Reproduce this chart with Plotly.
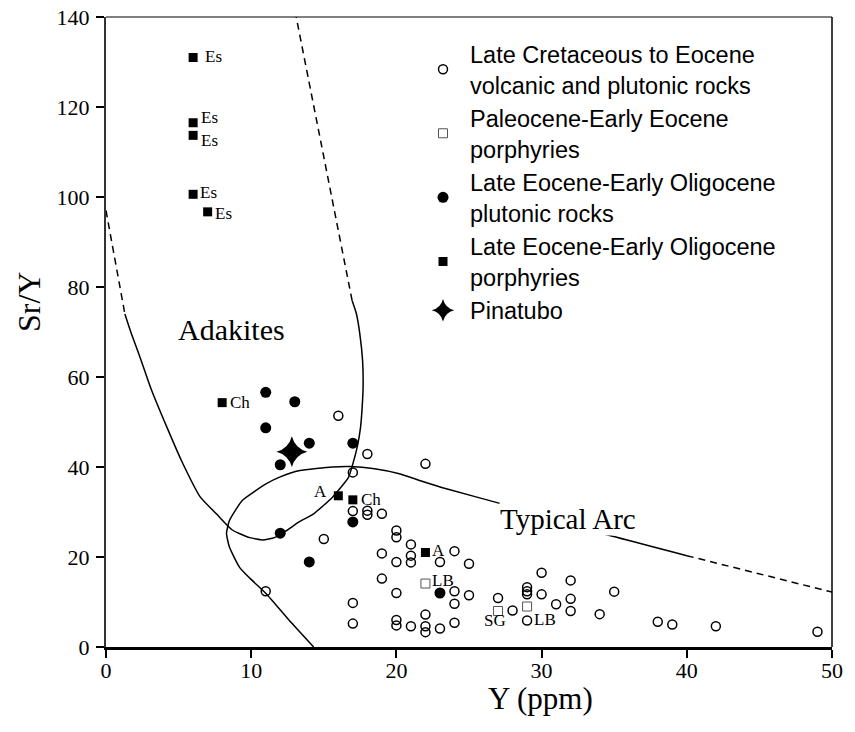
import plotly.graph_objects as go

# ---------------- data ----------------
# Late Cretaceous to Eocene volcanic and plutonic rocks (open circles)
lce_y = [16, 18, 17, 22, 17, 18, 18, 19, 15, 11, 17, 17, 20, 20, 21, 21, 21, 19, 20, 24,
         23, 25, 19, 20, 24, 25, 24, 20, 20, 21, 22, 22, 22, 23, 24, 27, 28, 29, 29, 29,
         30, 30, 31, 32, 32, 32, 35, 34, 38, 39, 42, 49, 29]
lce_sry = [51.4, 42.9, 38.8, 40.7, 30.2, 30.3, 29.4, 29.6, 24.0, 12.4, 9.8, 5.2, 25.9, 24.4,
           22.8, 20.3, 18.8, 20.8, 18.9, 21.3, 18.9, 18.5, 15.2, 12.0, 12.4, 11.5, 9.6, 6.0,
           4.8, 4.6, 7.2, 4.6, 3.3, 4.1, 5.4, 10.9, 8.1, 13.3, 12.4, 11.7, 16.5, 11.7, 9.5,
           14.8, 10.7, 8.0, 12.3, 7.3, 5.6, 5.0, 4.6, 3.4, 5.9]

# Paleocene-Early Eocene porphyries (open squares)
pee_y = [22, 27, 29]
pee_sry = [14.1, 8.0, 9.0]

# Late Eocene-Early Oligocene plutonic rocks (filled circles)
leo_plut_y = [11, 13, 11, 14, 17, 12, 12, 17, 14, 23]
leo_plut_sry = [56.6, 54.5, 48.7, 45.3, 45.3, 40.5, 25.3, 27.8, 18.9, 12.0]

# Late Eocene-Early Oligocene porphyries (filled squares)
leo_por_y = [6, 6, 6, 6, 7, 8, 16, 17, 22]
leo_por_sry = [131, 116.5, 113.7, 100.6, 96.7, 54.3, 33.6, 32.7, 21.0]

# Pinatubo
pin_y = [12.8]
pin_sry = [43.4]

# field boundaries
adak_dash1_x = [0, 1.3]
adak_dash1_y = [97, 74]
adak_solid_x = [1.3, 1.75, 2.3, 3.1, 4.2, 5.2, 6.5, 7.6, 8.7, 9.9, 10.8, 11.6, 12.4, 13.3,
                14.3, 15.6, 16.7, 17.0, 17.3, 17.53, 17.67, 17.71, 17.67, 17.48, 17.25, 16.95]
adak_solid_y = [74, 69.6, 64.8, 57.4, 48.8, 41.4, 33.3, 29.6, 26.0, 24.3, 23.8, 24.3, 25.8, 27.8,
                29.6, 33.3, 37.7, 40.7, 44.4, 48.8, 54.8, 58.5, 63.7, 69.6, 74, 77]
adak_dash2_x = [16.95, 13.1]
adak_dash2_y = [77, 140]

arc_solid_x = [14.3, 12.6, 11.05, 9.9, 9.2, 8.5, 8.3, 8.5, 9.4, 11.05, 12.0, 13.35, 15.6, 16.8,
               18.5, 20.2, 21.6, 23.5, 27.25, 33.3, 40.0]
arc_solid_y = [0, 6.0, 11.8, 15.3, 17.7, 22.2, 25.2, 28.1, 32.6, 36.3, 37.8, 39.2, 40.0, 40.1,
               39.6, 38.5, 37.0, 35.1, 31.8, 26.0, 20.3]
arc_dash_x = [40.0, 50.0]
arc_dash_y = [20.3, 12.2]

x_ticks = [0, 10, 20, 30, 40, 50]
y_ticks = [0, 20, 40, 60, 80, 100, 120, 140]

# point labels: text, Y, Sr/Y, xanchor, xshift, yshift
pt_labels = [
    ("Es", 6, 131, "left", 10, 1),
    ("Es", 6, 116.5, "left", 6, 5),
    ("Es", 6, 113.7, "left", 6, -5),
    ("Es", 6, 100.6, "left", 5, 2),
    ("Es", 7, 96.7, "left", 5, -2),
    ("Ch", 8, 54.3, "left", 6, 0),
    ("A", 16, 33.6, "right", -9, 4),
    ("Ch", 17, 32.7, "left", 6, 0),
    ("A", 22, 21.0, "left", 5, 2),
    ("LB", 22, 14.1, "left", 5, 3),
    ("SG", 27, 8.0, "center", -3, -9),
    ("LB", 29, 5.9, "left", 5, 1),
]

SERIF = "Liberation Serif"
SANS = "Liberation Sans"

fig = go.Figure()

line_style = dict(color="black", width=1.5)
dash_style = dict(color="black", width=1.5, dash="7px,5px")

for xs, ys, st in [(adak_dash1_x, adak_dash1_y, dash_style),
                   (adak_solid_x, adak_solid_y, line_style),
                   (adak_dash2_x, adak_dash2_y, dash_style),
                   (arc_solid_x, arc_solid_y, line_style),
                   (arc_dash_x, arc_dash_y, dash_style)]:
    fig.add_trace(go.Scatter(x=xs, y=ys, mode="lines", line=dict(shape="spline", smoothing=0.5, **st),
                             showlegend=False, hoverinfo="skip"))

fig.add_trace(go.Scatter(
    x=lce_y, y=lce_sry, mode="markers",
    name="Late Cretaceous to Eocene<br>volcanic and plutonic rocks",
    marker=dict(symbol="circle-open", size=9, color="black", line=dict(width=1.5, color="black"))))
fig.add_trace(go.Scatter(
    x=pee_y, y=pee_sry, mode="markers",
    name="Paleocene-Early Eocene<br>porphyries",
    marker=dict(symbol="square", size=9, color="white", line=dict(width=1, color="#555555"))))
fig.add_trace(go.Scatter(
    x=leo_plut_y, y=leo_plut_sry, mode="markers",
    name="Late Eocene-Early Oligocene<br>plutonic rocks",
    marker=dict(symbol="circle", size=11, color="black")))
fig.add_trace(go.Scatter(
    x=leo_por_y, y=leo_por_sry, mode="markers",
    name="Late Eocene-Early Oligocene<br>porphyries",
    marker=dict(symbol="square", size=9, color="black")))
fig.add_trace(go.Scatter(
    x=pin_y, y=pin_sry, mode="markers", name="Pinatubo",
    marker=dict(symbol="star-diamond", size=22, color="black")))

annotations = []
for t, xv, yv, xa, xs, ys in pt_labels:
    annotations.append(dict(x=xv, y=yv, xref="x", yref="y", text=t, showarrow=False,
                            xanchor=xa, yanchor="middle", xshift=xs, yshift=ys,
                            font=dict(family=SERIF, size=17, color="black")))
annotations.append(dict(x=8.63, y=70.5, xref="x", yref="y", text="Adakites", showarrow=False,
                        font=dict(family=SERIF, size=30, color="black")))
annotations.append(dict(x=31.85, y=28.5, xref="x", yref="y", text="Typical Arc", showarrow=False,
                        bgcolor="white", borderpad=0,
                        font=dict(family=SERIF, size=29, color="black")))
# axis titles
annotations.append(dict(x=0.599, y=-0.082, xref="paper", yref="paper", text="Y (ppm)",
                        showarrow=False, xanchor="center", yanchor="middle",
                        font=dict(family=SERIF, size=31, color="black")))
annotations.append(dict(x=-0.107, y=0.548, xref="paper", yref="paper", text="Sr/Y",
                        showarrow=False, xanchor="center", yanchor="middle", textangle=-90,
                        font=dict(family=SERIF, size=32, color="black")))

shapes = [
    dict(type="line", xref="paper", yref="paper", x0=0, x1=1, y0=1, y1=1,
         line=dict(color="black", width=1)),
    dict(type="line", xref="paper", yref="paper", x0=1, x1=1, y0=0, y1=1,
         line=dict(color="black", width=1.5)),
]

fig.update_layout(
    width=855, height=732,
    margin=dict(l=106, r=23, t=17, b=85, autoexpand=False),
    plot_bgcolor="white", paper_bgcolor="white",
    annotations=annotations, shapes=shapes,
    legend=dict(x=0.427, y=0.976, xanchor="left", yanchor="top",
                font=dict(family=SANS, size=23.5, color="black"),
                bgcolor="rgba(0,0,0,0)", itemwidth=44, tracegroupgap=0),
    xaxis=dict(range=[0, 50], tickvals=x_ticks, showgrid=False, zeroline=False, automargin=False,
               showline=True, linecolor="black", linewidth=3, ticks="outside", ticklen=8,
               tickwidth=2, tickcolor="black", ticklabelstandoff=-6,
               tickfont=dict(family=SERIF, size=22, color="black")),
    yaxis=dict(range=[0, 140], tickvals=y_ticks, showgrid=False, automargin=False,
               zeroline=False, showline=True, linecolor="#333333", linewidth=2, ticks="outside",
               ticklen=8, tickwidth=2, tickcolor="black", ticklabelstandoff=2,
               tickfont=dict(family=SERIF, size=22, color="black")),
)

# remove the browser's default 8px page margin so the figure fills the window exactly
fig.write_html("out.html", config={"displayModeBar": False},
               post_script="document.body.style.margin='0px';")
